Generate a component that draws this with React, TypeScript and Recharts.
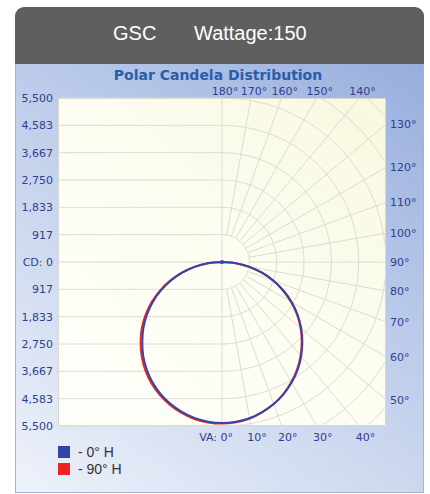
import { ScatterChart, Scatter, XAxis, YAxis, ReferenceLine, ReferenceDot } from "recharts";

// vertical angles (deg from nadir) and candela readings per horizontal plane
const verticalAngles = [0, 5, 10, 15, 20, 25, 30, 35, 40, 45, 50, 55, 60, 65, 70, 75, 80, 85, 90, 95, 100, 105, 110, 115, 120, 125, 130, 135, 140, 145, 150, 155, 160, 165, 170, 175, 180];
const cd0H = [5400, 5380, 5320, 5210, 5070, 4890, 4670, 4420, 4130, 3810, 3470, 3100, 2700, 2280, 1840, 1390, 930, 470, 0, 0, 0, 0, 0, 0, 0, 0, 0, 0, 0, 0, 0, 0, 0, 0, 0, 0, 0];
const cd180H = [5400, 5375, 5310, 5200, 5060, 4880, 4660, 4400, 4110, 3780, 3440, 3070, 2680, 2260, 1830, 1380, 930, 470, 0, 0, 0, 0, 0, 0, 0, 0, 0, 0, 0, 0, 0, 0, 0, 0, 0, 0, 0];
const cd90H = [5420, 5395, 5330, 5215, 5070, 4880, 4650, 4390, 4100, 3780, 3440, 3070, 2670, 2250, 1820, 1380, 920, 460, 0, 0, 0, 0, 0, 0, 0, 0, 0, 0, 0, 0, 0, 0, 0, 0, 0, 0, 0];
const cd270H = [5420, 5400, 5345, 5240, 5100, 4925, 4715, 4465, 4180, 3860, 3520, 3140, 2740, 2310, 1870, 1410, 945, 475, 0, 0, 0, 0, 0, 0, 0, 0, 0, 0, 0, 0, 0, 0, 0, 0, 0, 0, 0];

const cdTicks = [917, 1833, 2750, 3667, 4583, 5500];
const ringRadii = [917, 1833, 2750, 3667, 4583, 5500, 6417, 7333];
const angleTicks = [0, 10, 20, 30, 40, 50, 60, 70, 80, 90, 100, 110, 120, 130, 140, 150, 160, 170, 180];
const seriesNames = ["- 0° H", "- 90° H"];
const seriesColors = ["#3345a8", "#ee2424"];

const MAX = 5500;
const GRID = "#dcdcd3";
const LABEL = "#2e3f91";

const rad = (d: number) => (d * Math.PI) / 180;
const toXY = (angle: number, cd: number, side: number) => ({
  x: side * cd * Math.sin(rad(angle)),
  y: -cd * Math.cos(rad(angle)),
});

function polarLoop(right: number[], left: number[]) {
  const pts: { x: number; y: number }[] = [];
  for (let i = verticalAngles.length - 1; i >= 0; i--) pts.push(toXY(verticalAngles[i], right[i], 1));
  for (let i = 0; i < verticalAngles.length; i++) pts.push(toXY(verticalAngles[i], left[i], -1));
  return pts.filter((p, i) => i === 0 || Math.abs(p.x - pts[i - 1].x) + Math.abs(p.y - pts[i - 1].y) > 1e-6);
}

const ringPoints = (r: number) => {
  const pts = [];
  for (let a = 0; a <= 180; a += 2) pts.push(toXY(a, r, 1));
  return pts;
};

const edgeRadius = (a: number) => MAX / Math.max(Math.abs(Math.sin(rad(a))), Math.abs(Math.cos(rad(a))));

const yTicks = [...cdTicks.map((v) => -v).reverse(), 0, ...cdTicks];
const fmtCd = (v: number) => (v === 0 ? "CD: 0" : Math.abs(v).toLocaleString("en-US"));

const blueLoop = polarLoop(cd0H, cd180H);
const redLoop = polarLoop(cd90H, cd270H);

function AngleLabel(props: any) {
  const { cx, cy, angle } = props;
  const common = { fill: LABEL, fontSize: 11, fontFamily: "DejaVu Sans" };
  if (angle === 0)
    return <text x={cx + 11} y={cy + 15} textAnchor="end" {...common}>VA: 0°</text>;
  if (angle < 45)
    return <text x={cx + 6} y={cy + 15} textAnchor="middle" {...common}>{angle}°</text>;
  if (angle <= 135)
    return <text x={cx + 4} y={cy + 4} textAnchor="start" {...common}>{angle}°</text>;
  return <text x={cx + 3} y={cy - 3} textAnchor="middle" {...common}>{angle}°</text>;
}

export default function App() {
  return (
    <div style={{ position: "absolute", left: 0, top: 0, width: 430, height: 494, background: "#fff", overflow: "hidden" }}>
      <div
        style={{
          position: "absolute", left: 15, top: 7, width: 409, height: 57, background: "#5f5f5f",
          borderRadius: "9px 9px 0 0", color: "#fff", fontFamily: "Liberation Sans", fontSize: 20,
        }}
      >
        <span style={{ position: "absolute", left: 98, top: 15 }}>GSC</span>
        <span style={{ position: "absolute", left: 179, top: 15 }}>Wattage:150</span>
      </div>
      <div
        style={{
          position: "absolute", left: 15, top: 64, width: 407, height: 428,
          background: "linear-gradient(215deg, #97aedc 0%, #bccbea 40%, #eef2fa 100%)",
          border: "1px solid #9fb2da", borderTop: "none",
        }}
      />
      <div
        style={{
          position: "absolute", left: 58, top: 98, width: 326, height: 326,
          background: "linear-gradient(225deg, #f8f8df 0%, #fdfdf2 50%, #fefefa 100%)",
          border: "1px solid #d8d8d0",
        }}
      />
      <div
        style={{
          position: "absolute", left: 0, width: 436, top: 67, textAlign: "center",
          fontFamily: "DejaVu Sans", fontWeight: "bold", fontSize: 14, color: "#2a5daa",
        }}
      >
        Polar Candela Distribution
      </div>
      <div style={{ position: "absolute", left: 0, top: 0 }}>
        <ScatterChart width={430} height={494} margin={{ top: 98, right: 44, bottom: 68, left: 8 }}>
          <XAxis type="number" dataKey="x" domain={[-MAX, MAX]} allowDataOverflow hide />
          <YAxis
            type="number"
            dataKey="y"
            domain={[-MAX, MAX]}
            ticks={yTicks}
            interval={0}
            allowDataOverflow
            width={50}
            axisLine={false}
            tickLine={false}
            tickSize={3}
            tickMargin={2}
            tickFormatter={fmtCd}
            tick={{ fill: LABEL, fontSize: 11, fontFamily: "DejaVu Sans" }}
          />
          {yTicks.map((v) => (
            <ReferenceLine key={"h" + v} segment={[{ x: -MAX, y: v }, { x: 0, y: v }]} stroke={GRID} strokeWidth={1} ifOverflow="visible" />
          ))}
          {ringRadii.map((r) => (
            <Scatter key={"ring" + r} data={ringPoints(r)} line={{ stroke: GRID, strokeWidth: 1 }} shape={() => <g />} isAnimationActive={false} />
          ))}
          <ReferenceLine segment={[{ x: 0, y: -MAX }, { x: 0, y: MAX }]} stroke={GRID} strokeWidth={1} ifOverflow="visible" />
          {angleTicks.slice(1, -1).map((a) => (
            <ReferenceLine
              key={"ray" + a}
              segment={[toXY(a, ringRadii[0], 1), toXY(a, edgeRadius(a), 1)]}
              stroke={GRID}
              strokeWidth={1}
              ifOverflow="visible"
            />
          ))}
          {angleTicks.map((a) => {
            const p = toXY(a, edgeRadius(a), 1);
            return (
              <ReferenceDot key={"lab" + a} x={p.x} y={p.y} r={0} ifOverflow="visible" shape={(props: any) => <AngleLabel {...props} angle={a} />} />
            );
          })}
          <Scatter data={redLoop} line={{ stroke: seriesColors[1], strokeWidth: 2 }} lineJointType="natural" shape={() => <g />} isAnimationActive={false} />
          <Scatter data={blueLoop} line={{ stroke: seriesColors[0], strokeWidth: 2 }} lineJointType="natural" shape={() => <g />} isAnimationActive={false} />
          <ReferenceDot x={0} y={cd0H[18]} r={2} fill={seriesColors[0]} stroke="none" ifOverflow="visible" />
        </ScatterChart>
      </div>
      {seriesNames.map((name, i) => (
        <div key={name} style={{ position: "absolute", left: 58, top: 446 + i * 17, height: 12, display: "flex", alignItems: "center" }}>
          <div style={{ width: 12, height: 12, background: seriesColors[i] }} />
          <span style={{ marginLeft: 8, fontFamily: "Liberation Sans", fontSize: 14, color: "#333" }}>{name}</span>
        </div>
      ))}
    </div>
  );
}
